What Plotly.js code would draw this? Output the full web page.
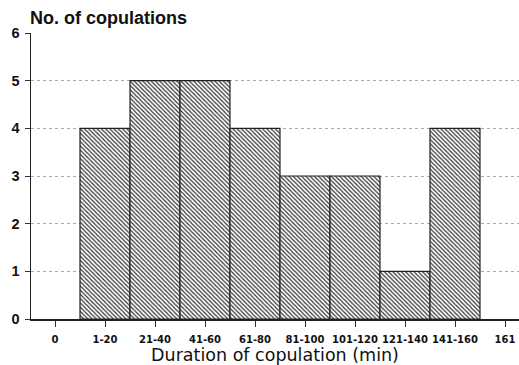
<!DOCTYPE html>
<html><head><meta charset="utf-8">
<script src="https://cdn.plot.ly/plotly-3.0.1.min.js"></script>
<style>body{margin:0;background:#fff}#c{width:519px;height:365px}</style>
</head><body><div id="c"></div>
<script>
const categories = ["0","1-20","21-40","41-60","61-80","81-100","101-120","121-140","141-160","161"];
const copulations = [null,4,5,5,4,3,3,1,4,null];
const yTicks = [0,1,2,3,4,5,6];

const trace = {
  type:'bar', x:categories, y:copulations, width:1,
  marker:{color:'white', line:{color:'#222', width:1.2},
    pattern:{shape:'\\', size:3, solidity:0.4, fgcolor:'#333', bgcolor:'white'}},
  hoverinfo:'none'
};
const layout = {
  width:519, height:365, margin:{l:31,r:0,t:33,b:46},
  paper_bgcolor:'white', plot_bgcolor:'white', showlegend:false,
  bargap:0,
  title:{text:'No. of copulations', x:0.058, xanchor:'left', y:0.952, yanchor:'middle',
    font:{family:'Liberation Sans, Arial', size:18, color:'#111', weight:'bold'}},
  xaxis:{type:'category', categoryorder:'array', categoryarray:categories, range:[-0.48,9.28],
    showline:true, linecolor:'#222', linewidth:1.5, ticks:'outside', ticklen:6, tickcolor:'#333',
    tickangle:0, ticklabelstandoff:4,
    showgrid:false, tickfont:{family:'DejaVu Sans', size:10, color:'#111', weight:'bold'},
    title:{text:'Duration of copulation (min)', standoff:4,
      font:{family:'DejaVu Sans', size:17.5, color:'#111'}}},
  yaxis:{range:[0,6], tickvals:yTicks, showline:true, linecolor:'#222', linewidth:1.5,
    ticks:'outside', ticklen:5, tickcolor:'#333', zeroline:false, ticklabelstandoff:2,
    showgrid:true, gridcolor:'#aaa', griddash:'dot', gridwidth:1,
    tickfont:{family:'Liberation Sans, Arial', size:14.5, color:'#111', weight:'bold'}}
};
Plotly.newPlot('c',[trace],layout,{displayModeBar:false,staticPlot:true});
</script></body></html>
